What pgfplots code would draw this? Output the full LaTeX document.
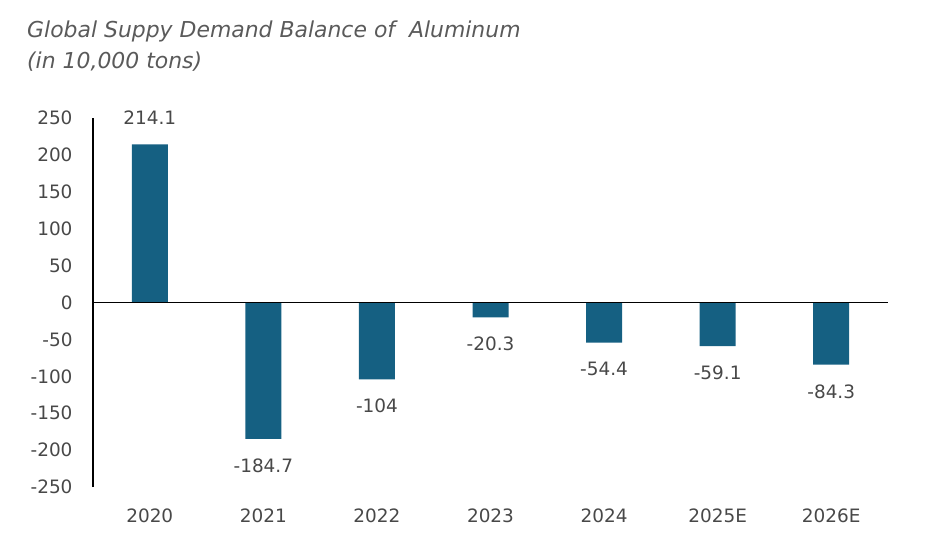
\documentclass[border=0pt]{standalone}
\usepackage{fontspec}
\setmainfont{DejaVu Sans}
\usepackage{pgfplots}
\pgfplotsset{compat=1.18}
\definecolor{barblue}{RGB}{21,96,130}
\definecolor{txtgray}{RGB}{72,72,72}

\begin{document}
\begin{tikzpicture}
\begin{axis}[
    scale only axis,
    width=795bp, height=369bp,
    xmin=-0.5, xmax=6.5,
    ymin=-250, ymax=250,
    axis line style={draw=none},
    major tick length=0pt,
    xtick={0,...,6},
    xticklabels={2020,2021,2022,2023,2024,2025E,2026E},
    ytick={-250,-200,...,250},
    /pgf/number format/assume math mode=true,
    tick label style={font=\fontsize{18.5}{20}\selectfont, text=txtgray},
    xticklabel style={yshift=-18bp},
    yticklabel style={xshift=-17bp},
    ybar, bar width=36bp,
    nodes near coords={\pgfmathprintnumber[fixed,precision=1]{\pgfplotspointmeta}},
    nodes near coords style={font=\fontsize{18.5}{20}\selectfont, text=txtgray, inner ysep=19.5bp},
    clip=false,
]
\addplot[fill=barblue, draw=none] coordinates {
    (0,214.1) (1,-184.7) (2,-104) (3,-20.3) (4,-54.4) (5,-59.1) (6,-84.3)
};
\draw[black, line width=1.6bp] (axis cs:-0.5,0) -- (axis cs:6.5,0);
\draw[black, line width=1.6bp] (axis cs:-0.5,-250) -- (axis cs:-0.5,250);
\end{axis}
\node[anchor=north west, align=left, text=txtgray!90, font=\itshape\fontsize{22}{31}\selectfont, inner sep=0pt]
    at (-66bp,466bp) {Global Suppy Demand Balance of\ \ Aluminum\\(in 10,000 tons)};
\path (-93bp,-69bp) rectangle (850bp,487bp);
\end{tikzpicture}
\end{document}
